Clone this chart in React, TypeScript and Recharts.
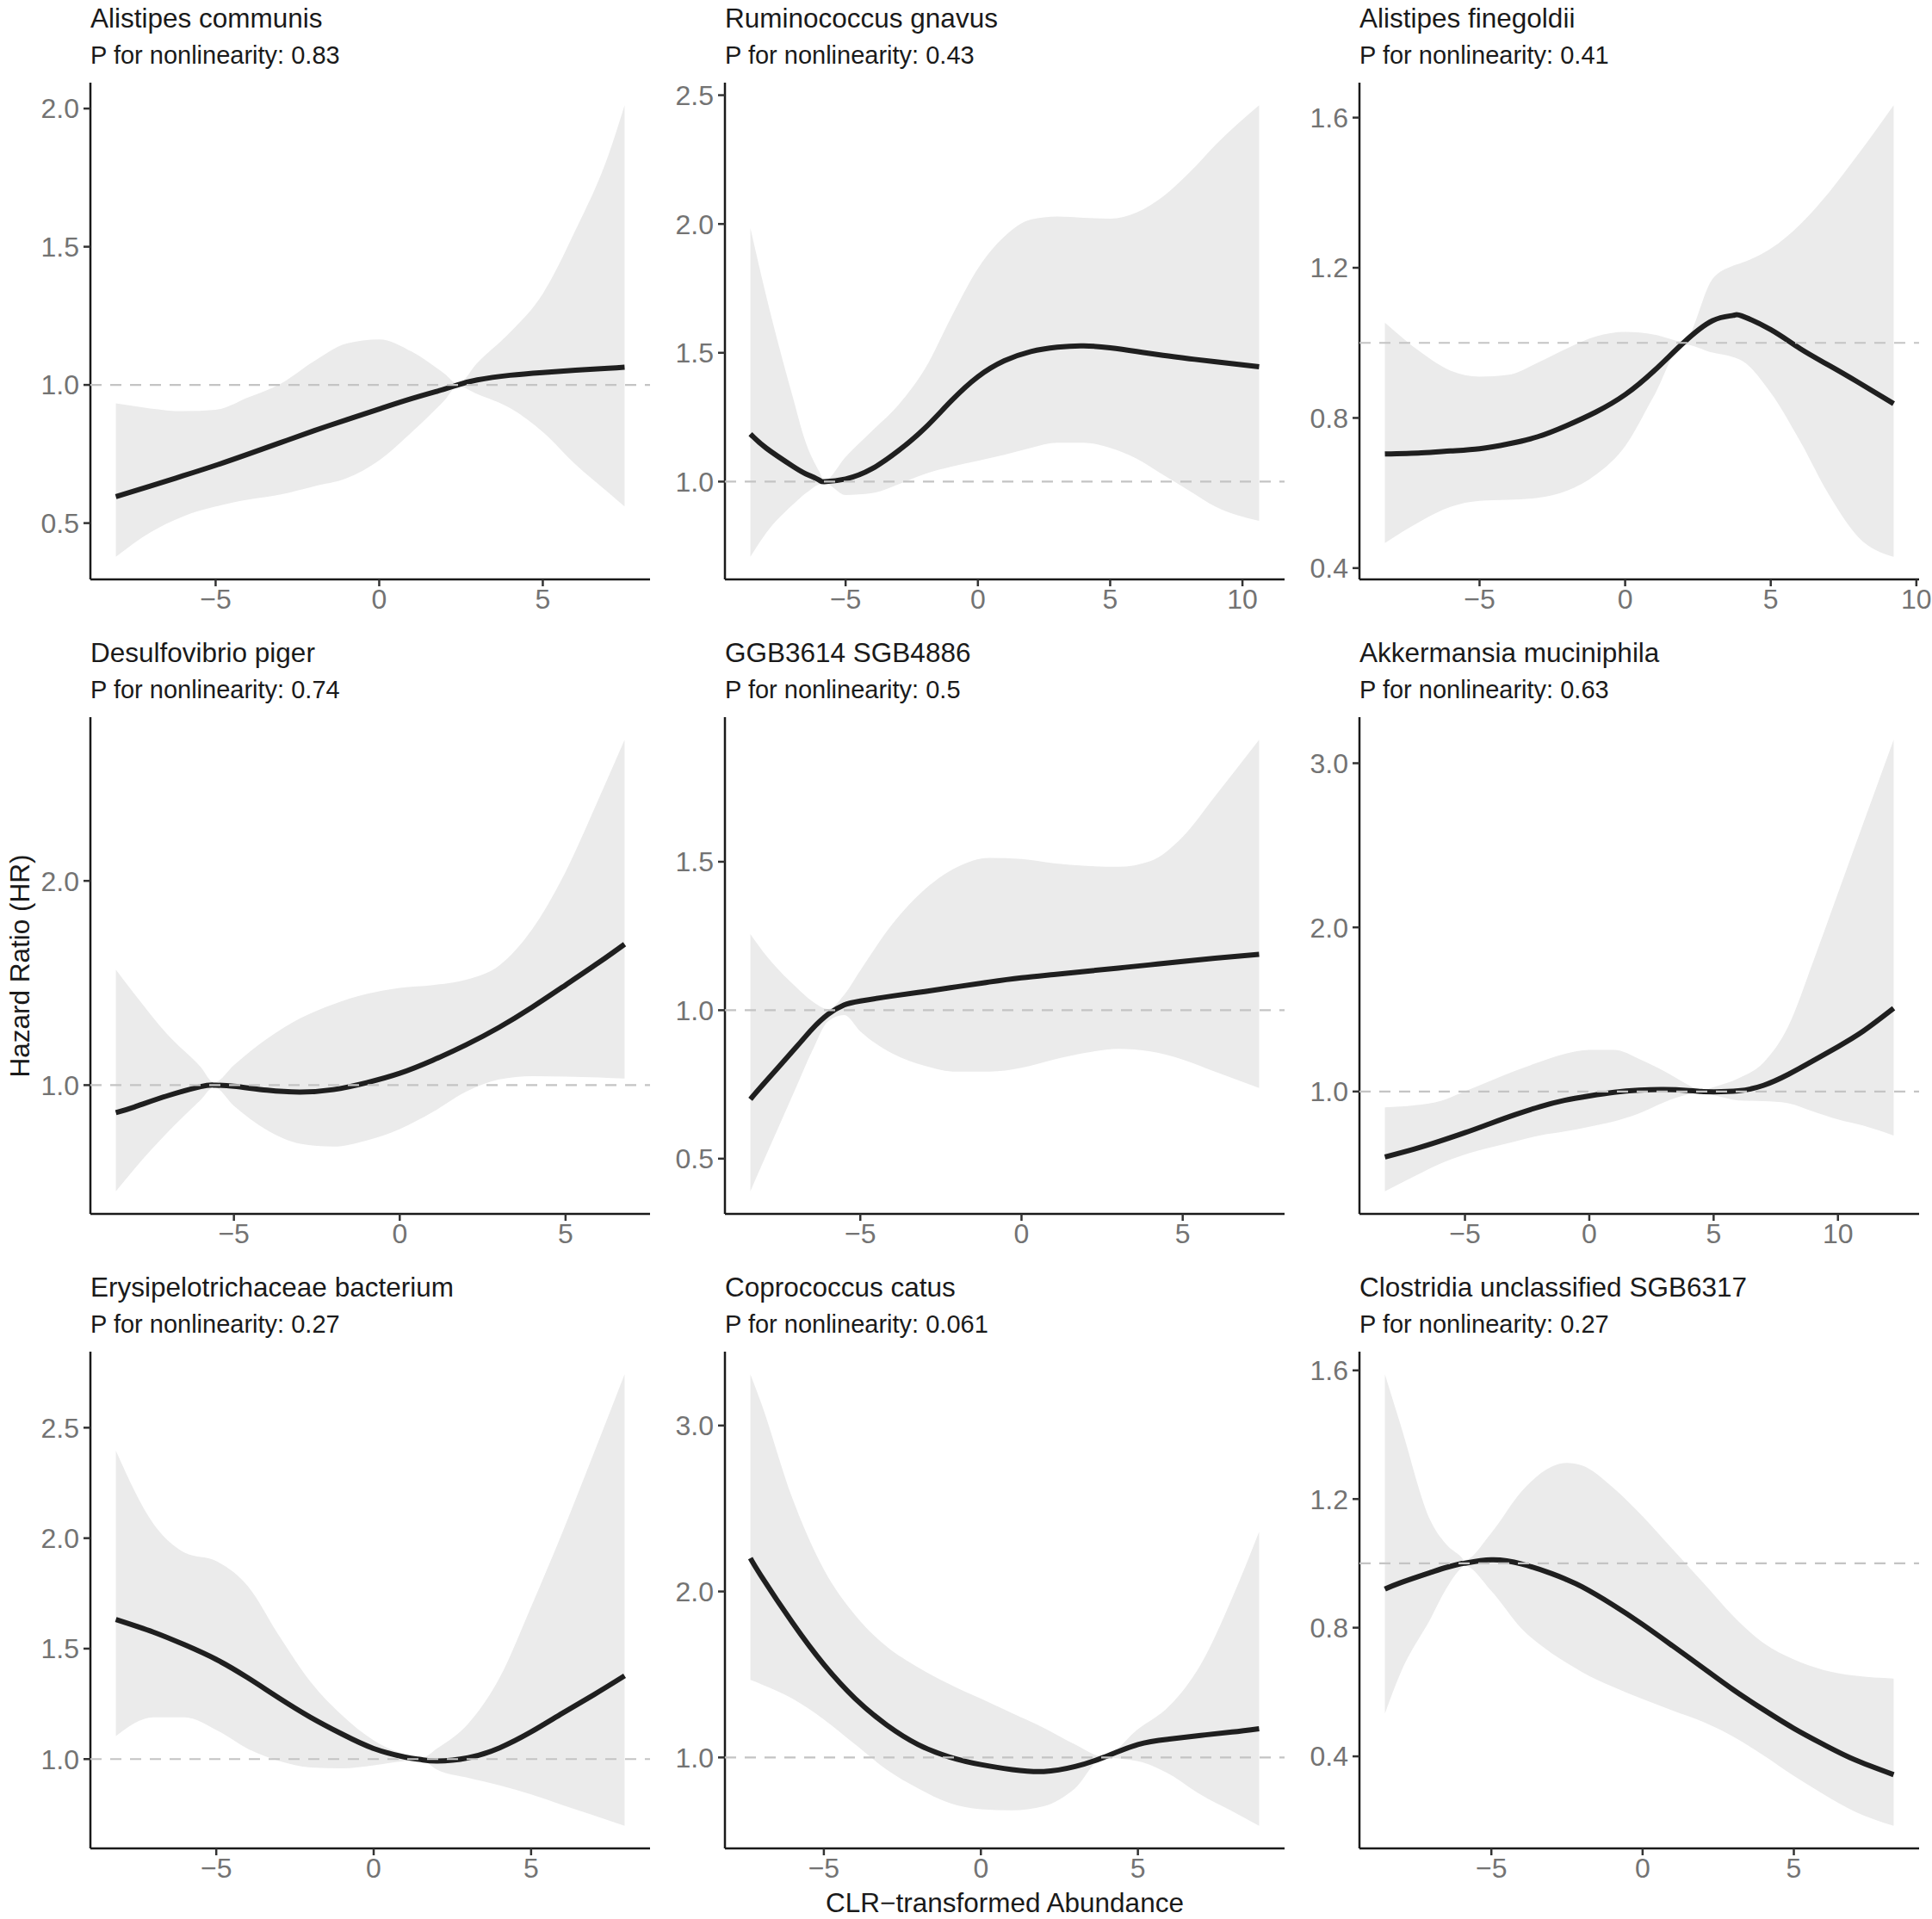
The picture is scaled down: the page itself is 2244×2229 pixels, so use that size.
import { ComposedChart, Line, Area, XAxis, YAxis, ReferenceLine } from 'recharts';

// Alistipes communis
const communisX = [-8.05, -7, -6, -5, -4, -3, -2, -1, 0, 1, 2, 2.4, 3, 4, 5, 6, 7, 7.5];
const communisHR = [0.596, 0.634, 0.671, 0.709, 0.75, 0.792, 0.834, 0.874, 0.913, 0.951, 0.985, 1.0, 1.018, 1.035, 1.045, 1.053, 1.06, 1.064];
const communisLo = [0.378, 0.466, 0.524, 0.56, 0.585, 0.604, 0.633, 0.662, 0.727, 0.83, 0.945, 0.996, 0.967, 0.916, 0.83, 0.712, 0.611, 0.56];
const communisHi = [0.933, 0.915, 0.905, 0.91, 0.955, 1.005, 1.085, 1.15, 1.165, 1.12, 1.04, 1.004, 1.08, 1.19, 1.33, 1.56, 1.83, 2.012];

// Ruminococcus gnavus
const gnavusX = [-8.6, -8, -7, -6.5, -6, -5.8, -5, -4, -3, -2, -1, 0, 1, 2, 3, 4, 5, 6, 7, 8, 9, 10.63];
const gnavusHR = [1.185, 1.13, 1.06, 1.03, 1.006, 1.0, 1.01, 1.05, 1.12, 1.208, 1.314, 1.407, 1.469, 1.505, 1.522, 1.527, 1.519, 1.505, 1.49, 1.477, 1.465, 1.446];
const gnavusLo = [0.708, 0.801, 0.91, 0.955, 0.99, 0.995, 0.948, 0.955, 0.99, 1.03, 1.058, 1.081, 1.104, 1.131, 1.151, 1.151, 1.131, 1.089, 1.026, 0.964, 0.902, 0.848];
const gnavusHi = [1.985, 1.72, 1.33, 1.15, 1.04, 1.005, 1.096, 1.197, 1.298, 1.438, 1.64, 1.827, 1.951, 2.017, 2.029, 2.024, 2.021, 2.045, 2.107, 2.2, 2.309, 2.461];

// Alistipes finegoldii
const finegoldiiX = [-8.25, -7, -6, -5, -4, -3, -2, -1, 0, 1, 2, 3, 3.7, 4, 5, 6, 7, 8, 9.22];
const finegoldiiHR = [0.704, 0.707, 0.712, 0.718, 0.731, 0.75, 0.78, 0.816, 0.862, 0.926, 1.0, 1.059, 1.073, 1.072, 1.035, 0.985, 0.94, 0.895, 0.838];
const finegoldiiLo = [0.467, 0.526, 0.563, 0.579, 0.582, 0.587, 0.606, 0.649, 0.725, 0.86, 0.996, 0.974, 0.962, 0.953, 0.867, 0.739, 0.595, 0.483, 0.43];
const finegoldiiHi = [1.054, 0.974, 0.926, 0.91, 0.915, 0.947, 0.985, 1.017, 1.029, 1.022, 1.004, 1.17, 1.205, 1.213, 1.251, 1.315, 1.401, 1.502, 1.633];

// Desulfovibrio piger
const pigerX = [-8.56, -8, -7, -6, -5.6, -5, -4, -3, -2, -1, 0, 1, 2, 3, 4, 5, 6, 6.78];
const pigerHR = [0.865, 0.893, 0.948, 0.993, 1.0, 0.994, 0.975, 0.966, 0.978, 1.012, 1.058, 1.122, 1.197, 1.283, 1.382, 1.49, 1.6, 1.69];
const pigerLo = [0.48, 0.59, 0.769, 0.928, 0.99, 0.898, 0.779, 0.713, 0.699, 0.729, 0.785, 0.869, 0.968, 1.028, 1.044, 1.042, 1.038, 1.032];
const pigerHi = [1.566, 1.446, 1.247, 1.088, 1.012, 1.098, 1.227, 1.327, 1.396, 1.446, 1.476, 1.49, 1.516, 1.586, 1.765, 2.044, 2.402, 2.691];

// GGB3614 SGB4886
const ggbX = [-8.41, -8, -7, -6.5, -6, -5.5, -5, -4, -3, -2, -1, 0, 1, 2, 3, 4, 5, 6, 7.37];
const ggbHR = [0.7, 0.752, 0.874, 0.936, 0.986, 1.018, 1.031, 1.048, 1.063, 1.079, 1.095, 1.109, 1.12, 1.131, 1.142, 1.153, 1.164, 1.175, 1.188];
const ggbLo = [0.39, 0.492, 0.738, 0.861, 0.963, 0.984, 0.929, 0.854, 0.813, 0.793, 0.793, 0.806, 0.834, 0.857, 0.87, 0.861, 0.834, 0.793, 0.738];
const ggbHi = [1.256, 1.195, 1.079, 1.031, 1.004, 1.052, 1.134, 1.291, 1.407, 1.482, 1.513, 1.509, 1.495, 1.486, 1.483, 1.502, 1.584, 1.72, 1.911];

// Akkermansia muciniphila
const akkX = [-8.22, -7, -6, -5, -4, -3, -2, -1, 0, 1, 2, 3, 4, 4.5, 5, 6, 7, 8, 9, 10, 11, 12.24];
const akkHR = [0.601, 0.651, 0.698, 0.749, 0.804, 0.858, 0.907, 0.946, 0.973, 0.995, 1.008, 1.012, 1.006, 1.0, 0.998, 1.004, 1.037, 1.104, 1.187, 1.273, 1.366, 1.507];
const akkLo = [0.392, 0.486, 0.56, 0.616, 0.658, 0.695, 0.732, 0.756, 0.786, 0.818, 0.867, 0.934, 0.983, 0.995, 0.978, 0.946, 0.941, 0.929, 0.879, 0.83, 0.793, 0.732];
const akkHi = [0.904, 0.916, 0.941, 1.002, 1.064, 1.125, 1.18, 1.229, 1.253, 1.253, 1.199, 1.125, 1.039, 1.005, 1.027, 1.081, 1.175, 1.396, 1.79, 2.208, 2.626, 3.143];

// Erysipelotrichaceae bacterium
const erysX = [-8.19, -7, -6, -5, -4, -3, -2, -1, 0, 1, 1.5, 2, 3, 4, 5, 6, 7, 7.97];
const erysHR = [1.632, 1.575, 1.517, 1.451, 1.368, 1.276, 1.189, 1.113, 1.048, 1.009, 0.998, 0.991, 1.006, 1.051, 1.123, 1.208, 1.292, 1.377];
const erysLo = [1.104, 1.189, 1.189, 1.132, 1.047, 0.991, 0.962, 0.958, 0.972, 0.991, 0.997, 0.953, 0.915, 0.881, 0.84, 0.792, 0.745, 0.698];
const erysHi = [2.396, 2.066, 1.934, 1.896, 1.783, 1.557, 1.349, 1.198, 1.085, 1.02, 1.003, 1.047, 1.16, 1.368, 1.689, 2.028, 2.387, 2.742];

// Coprococcus catus
const catusX = [-7.34, -7, -6, -5, -4, -3, -2, -1, 0, 1, 2, 3, 3.9, 5, 6, 7, 8, 8.86];
const catusHR = [2.201, 2.095, 1.812, 1.56, 1.354, 1.196, 1.078, 1.003, 0.957, 0.927, 0.915, 0.945, 1.0, 1.078, 1.111, 1.133, 1.153, 1.173];
const catusLo = [1.467, 1.442, 1.354, 1.229, 1.078, 0.927, 0.814, 0.726, 0.688, 0.681, 0.706, 0.814, 0.998, 0.977, 0.9, 0.776, 0.676, 0.588];
const catusHi = [3.309, 3.138, 2.56, 2.133, 1.857, 1.668, 1.543, 1.442, 1.354, 1.266, 1.178, 1.078, 1.005, 1.17, 1.31, 1.56, 1.96, 2.359];

// Clostridia unclassified SGB6317
const clostX = [-8.52, -8, -7, -6.5, -6, -5.9, -5, -4, -3, -2.5, -2, -1, 0, 1, 2, 3, 4, 5, 6, 7, 8.3];
const clostHR = [0.92, 0.94, 0.972, 0.987, 0.999, 1.0, 1.011, 0.998, 0.968, 0.949, 0.927, 0.872, 0.81, 0.743, 0.675, 0.607, 0.545, 0.487, 0.436, 0.39, 0.343];
const clostLo = [0.533, 0.66, 0.83, 0.92, 0.985, 0.993, 0.914, 0.797, 0.72, 0.69, 0.662, 0.617, 0.578, 0.542, 0.507, 0.461, 0.403, 0.339, 0.281, 0.229, 0.184];
const clostHi = [1.588, 1.43, 1.13, 1.06, 1.02, 1.01, 1.095, 1.224, 1.301, 1.312, 1.304, 1.237, 1.146, 1.043, 0.94, 0.836, 0.752, 0.701, 0.668, 0.651, 0.642];

const titles = [
  'Alistipes communis', 'Ruminococcus gnavus', 'Alistipes finegoldii',
  'Desulfovibrio piger', 'GGB3614 SGB4886', 'Akkermansia muciniphila',
  'Erysipelotrichaceae bacterium', 'Coprococcus catus', 'Clostridia unclassified SGB6317',
];
const pNonlin = ['0.83', '0.43', '0.41', '0.74', '0.5', '0.63', '0.27', '0.061', '0.27'];

const xTicks5 = [-5, 0, 5];
const xTicks10 = [-5, 0, 5, 10];
const yTicksA = [0.5, 1, 1.5, 2];
const yTicksB = [1, 1.5, 2, 2.5];
const yTicksC = [0.4, 0.8, 1.2, 1.6];
const yTicksD = [1, 2];
const yTicksE = [0.5, 1, 1.5];
const yTicksF = [1, 2, 3];

const series = [
  { x: communisX, hr: communisHR, lo: communisLo, hi: communisHi, xt: xTicks5, yt: yTicksA },
  { x: gnavusX, hr: gnavusHR, lo: gnavusLo, hi: gnavusHi, xt: xTicks10, yt: yTicksB },
  { x: finegoldiiX, hr: finegoldiiHR, lo: finegoldiiLo, hi: finegoldiiHi, xt: xTicks10, yt: yTicksC },
  { x: pigerX, hr: pigerHR, lo: pigerLo, hi: pigerHi, xt: xTicks5, yt: yTicksD },
  { x: ggbX, hr: ggbHR, lo: ggbLo, hi: ggbHi, xt: xTicks5, yt: yTicksE },
  { x: akkX, hr: akkHR, lo: akkLo, hi: akkHi, xt: xTicks10, yt: yTicksF },
  { x: erysX, hr: erysHR, lo: erysLo, hi: erysHi, xt: xTicks5, yt: yTicksB },
  { x: catusX, hr: catusHR, lo: catusLo, hi: catusHi, xt: xTicks5, yt: yTicksF },
  { x: clostX, hr: clostHR, lo: clostLo, hi: clostHi, xt: xTicks5, yt: yTicksC },
];

const FONT = '"Liberation Sans", Arial, Helvetica, sans-serif';
const COL_X = [105, 842, 1579];
const ROW_TOP = [96, 833, 1570];
const PLOT_W = 650;
const PLOT_H = 577;
const Y_W = 90;
const X_H = 50;
const TOP_PAD = 20;
const RIGHT_PAD = 16;

// ggplot-style 5% expansion
const expand = (a: number, b: number): [number, number] => {
  const r = b - a;
  return [a - 0.05 * r, b + 0.05 * r];
};

const fmtX = (v: number) => (v < 0 ? `\u2212${Math.abs(v)}` : `${v}`);
const fmtY = (v: number) => v.toFixed(1);

function Panel({ idx }: { idx: number }) {
  const s = series[idx];
  const data = s.x.map((x, i) => ({ x, hr: s.hr[i], band: [s.lo[i], s.hi[i]] }));
  const xDomain = expand(s.x[0], s.x[s.x.length - 1]);
  const yDomain = expand(Math.min(...s.lo, ...s.hr), Math.max(...s.hi, ...s.hr));
  const left = COL_X[idx % 3] - Y_W;
  const top = ROW_TOP[Math.floor(idx / 3)] - TOP_PAD;
  const axisStyle = { stroke: '#1a1a1a', strokeWidth: 2.5 };
  const tickStyle = { fill: '#737373', fontSize: 32, fontFamily: FONT };
  return (
    <div style={{ position: 'absolute', left, top }}>
      <ComposedChart
        width={Y_W + PLOT_W + RIGHT_PAD}
        height={TOP_PAD + PLOT_H + X_H}
        data={data}
        margin={{ top: TOP_PAD, right: RIGHT_PAD, bottom: 0, left: 0 }}
      >
        <XAxis
          type="number"
          dataKey="x"
          domain={xDomain}
          allowDataOverflow
          ticks={s.xt}
          interval={0}
          tickFormatter={fmtX}
          height={X_H}
          tickSize={8}
          tickMargin={3}
          axisLine={axisStyle}
          tickLine={{ stroke: '#333', strokeWidth: 2.5 }}
          tick={tickStyle}
        />
        <YAxis
          type="number"
          domain={yDomain}
          allowDataOverflow
          ticks={s.yt}
          interval={0}
          tickFormatter={fmtY}
          width={Y_W}
          tickSize={8}
          tickMargin={5}
          axisLine={axisStyle}
          tickLine={{ stroke: '#333', strokeWidth: 2.5 }}
          tick={tickStyle}
        />
        <Area
          type="monotone"
          dataKey="band"
          stroke="none"
          fill="#ebebeb"
          fillOpacity={1}
          activeDot={false}
          isAnimationActive={false}
        />
        <Line
          type="natural"
          dataKey="hr"
          stroke="#1f1f1f"
          strokeWidth={6}
          dot={false}
          activeDot={false}
          isAnimationActive={false}
        />
        <ReferenceLine y={1} stroke="#c4c4c4" strokeWidth={2.2} strokeDasharray="13 10" zIndex={1500} />
      </ComposedChart>
    </div>
  );
}

export default function App() {
  return (
    <div
      style={{
        position: 'absolute',
        left: 0,
        top: 0,
        width: 2244,
        height: 2229,
        overflow: 'hidden',
        background: '#fff',
        fontFamily: FONT,
      }}
    >
      {series.map((_, i) => (
        <Panel key={i} idx={i} />
      ))}
      <svg width={2244} height={2229} style={{ position: 'absolute', left: 0, top: 0, pointerEvents: 'none' }}>
        {titles.map((t, i) => {
          const x = COL_X[i % 3];
          const rowTop = ROW_TOP[Math.floor(i / 3)];
          return (
            <g key={t} fontFamily={FONT} fill="#1a1a1a">
              <text x={x} y={rowTop - 64} fontSize={31.5}>{t}</text>
              <text x={x} y={rowTop - 22} fontSize={29}>{`P for nonlinearity: ${pNonlin[i]}`}</text>
            </g>
          );
        })}
        <text
          x={1167}
          y={2221}
          fontSize={31.5}
          fontFamily={FONT}
          fill="#1a1a1a"
          textAnchor="middle"
        >
          CLR−transformed Abundance
        </text>
        <text
          transform="translate(34,1122) rotate(-90)"
          fontSize={31.5}
          fontFamily={FONT}
          fill="#1a1a1a"
          textAnchor="middle"
        >
          Hazard Ratio (HR)
        </text>
      </svg>
    </div>
  );
}
